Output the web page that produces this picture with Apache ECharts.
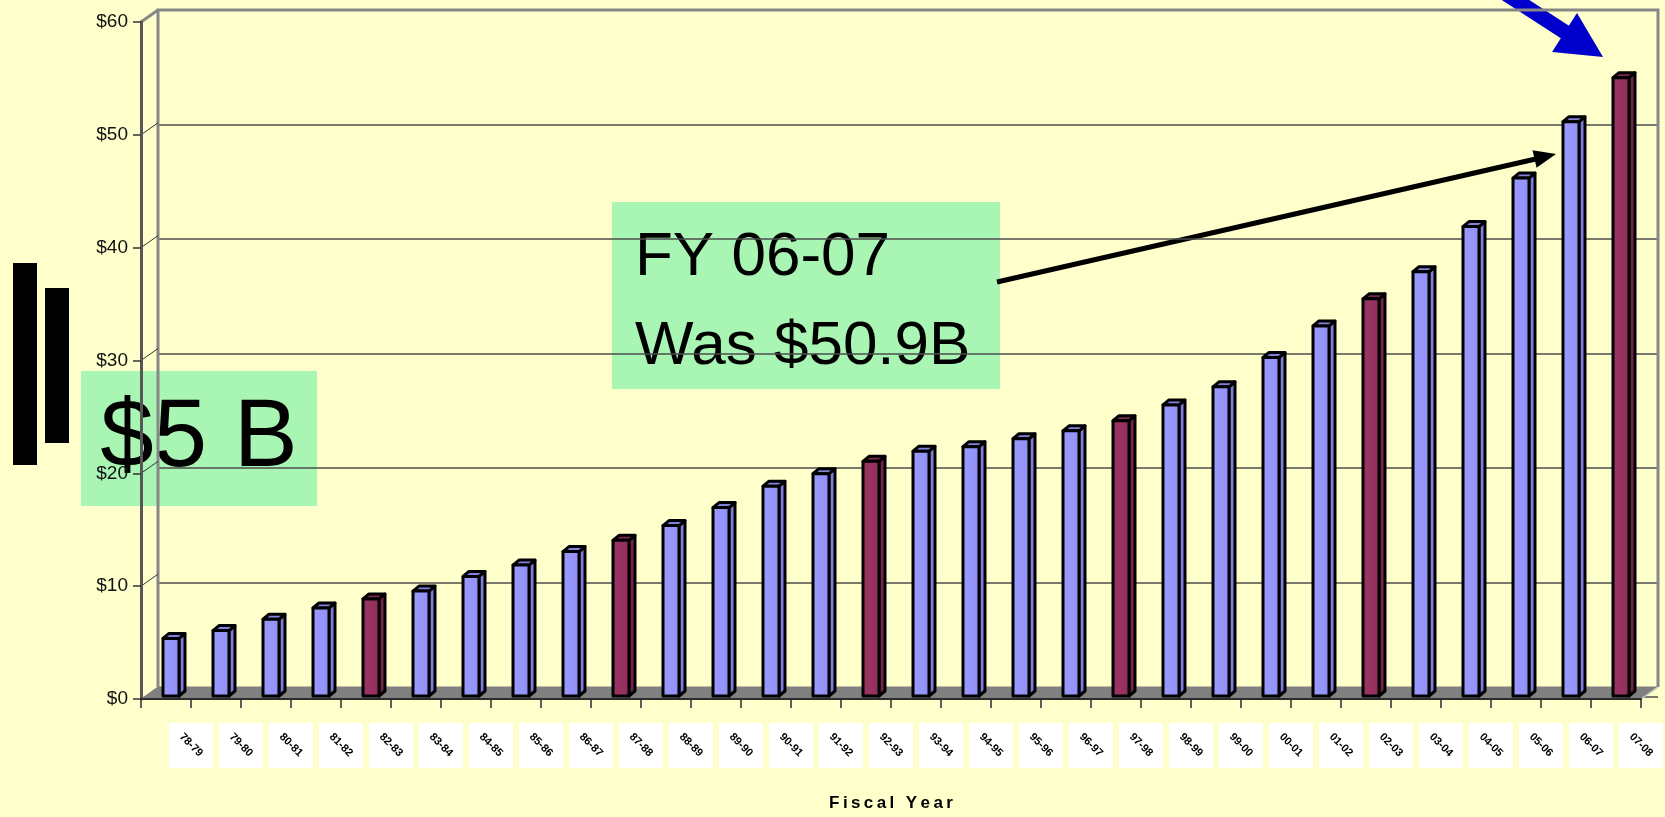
<!DOCTYPE html>
<html>
<head>
<meta charset="utf-8">
<script src="https://cdn.jsdelivr.net/npm/echarts@6/dist/echarts.min.js"></script>
<style>
  html, body { margin: 0; padding: 0; background: #FFFFCC; }
  #chart { width: 1665px; height: 817px; }
</style>
</head>
<body>
<div id="chart"></div>
<script>
// 财年
var years = ['78-79', '79-80', '80-81', '81-82', '82-83', '83-84', '84-85', '85-86', '86-87', '87-88',
  '88-89', '89-90', '90-91', '91-92', '92-93', '93-94', '94-95', '95-96', '96-97', '97-98',
  '98-99', '99-00', '00-01', '01-02', '02-03', '03-04', '04-05', '05-06', '06-07', '07-08']
// 金额 ($B)
var spending = [5.1, 5.8, 6.8, 7.8, 8.6, 9.3, 10.6, 11.6, 12.8, 13.8,
  15.1, 16.7, 18.6, 19.7, 20.8, 21.7, 22.1, 22.8, 23.5, 24.4,
  25.8, 27.4, 30.0, 32.8, 35.2, 37.6, 41.6, 45.9, 50.9, 54.8]
// 红色柱子
var redYears = ['82-83', '87-88', '92-93', '97-98', '02-03', '07-08']
var yTicks = [0, 10, 20, 30, 40, 50, 60]

var FONT = '"Liberation Sans", Arial, sans-serif'
var DX = 17; var DY = -12 // 3D 深度偏移

var barData = spending.map(function(v, i) { return [i, v, redYears.indexOf(years[i]) >= 0 ? 1 : 0] })

var chart = echarts.init(document.getElementById('chart'))

function colorsFor(red) {
  if (red) {
    return {
      front: new echarts.graphic.LinearGradient(0, 0, 1, 0, [
        { offset: 0, color: '#9B3463' }, { offset: 0.7, color: '#96315F' }, { offset: 1, color: '#862B55' }]),
      side: '#77244C',
      top: '#7C274F'
    }
  }
  return {
    front: new echarts.graphic.LinearGradient(0, 0, 1, 0, [
      { offset: 0, color: '#9A9AFF' }, { offset: 0.7, color: '#9494F8' }, { offset: 1, color: '#8686E8' }]),
    side: '#7E7EDA',
    top: '#8282DC'
  }
}

// 柱子 (伪 3D)
function renderBar(params, api) {
  var base = api.coord([api.value(0), 0])
  var top = api.coord([api.value(0), api.value(1)])
  var c = colorsFor(api.value(2))
  var xl = base[0] - 3; var xr = base[0] + 13
  var y0 = base[1] - 3; var y1 = top[1] - 3
  var d = [6, -5]
  var st = { stroke: '#000', lineWidth: 3, lineJoin: 'round' }
  return {
    type: 'group',
    children: [
      { type: 'polygon', shape: { points: [[xr, y0], [xr + d[0], y0 + d[1]], [xr + d[0], y1 + d[1]], [xr, y1]] },
        style: Object.assign({ fill: c.side }, st) },
      { type: 'polygon', shape: { points: [[xl, y1], [xr, y1], [xr + d[0], y1 + d[1]], [xl + d[0], y1 + d[1]]] },
        style: Object.assign({ fill: c.top }, st) },
      { type: 'rect', shape: { x: xl, y: y1, width: xr - xl, height: y0 - y1 },
        style: Object.assign({ fill: c.front }, st) }
    ]
  }
}

// 墙面 地板
function renderFrame(params, api) {
  var cs = params.coordSys
  var l = cs.x; var r = cs.x + cs.width; var t = cs.y; var b = cs.y + cs.height
  var kids = [
    { type: 'polygon', shape: { points: [[l, b], [r, b], [r + DX, b + DY], [l + DX, b + DY]] },
      style: { fill: '#808080', stroke: '#808080', lineWidth: 1 } },
    { type: 'line', shape: { x1: r, y1: b, x2: r + DX, y2: b + DY }, style: { stroke: '#C8C8C8', lineWidth: 1.5 } },
    { type: 'polyline', shape: { points: [[l + DX, b + DY], [l + DX, t + DY], [r + DX, t + DY], [r + DX, b + DY]] },
      style: { stroke: '#878787', lineWidth: 3, fill: null } },
    { type: 'line', shape: { x1: l, y1: t, x2: l + DX, y2: t + DY }, style: { stroke: '#878787', lineWidth: 3 } }
  ]
  yTicks.forEach(function(v) {
    if (v === 0 || v === 60) return
    var y = api.coord([0, v])[1]
    kids.push({ type: 'line', shape: { x1: l, y1: y, x2: l + DX, y2: y + DY }, style: { stroke: '#333', lineWidth: 1 } })
  })
  return { type: 'group', children: kids }
}

// x 轴标签 (白底斜字)
function renderLabel(params, api) {
  var base = api.coord([api.value(0), 0])
  var cx = base[0] + 25
  var y = base[1] + 24
  return {
    type: 'group',
    children: [
      { type: 'rect', shape: { x: cx - 22, y: y, width: 44, height: 45 }, style: { fill: '#fff' } },
      { type: 'text', x: cx, y: y + 22, rotation: -Math.PI / 4,
        style: { text: years[api.value(0)], fill: '#000', font: 'bold 11px ' + FONT, align: 'center', verticalAlign: 'middle' } }
    ]
  }
}

function arrowHead(x1, y1, x2, y2, len, half) {
  var dx = x2 - x1; var dy = y2 - y1; var n = Math.sqrt(dx * dx + dy * dy)
  var ux = dx / n; var uy = dy / n
  var bx = x2 - ux * len; var by = y2 - uy * len
  return [[x2, y2], [bx - uy * half, by + ux * half], [bx + uy * half, by - ux * half]]
}

chart.setOption({
  backgroundColor: '#FFFFCC',
  animation: false,
  grid: [
    { left: 141, right: 24, top: 22, bottom: 108 },
    { left: 141 + DX, right: 24 - DX, top: 22 + DY, bottom: 108 - DY }
  ],
  xAxis: [
    {
      type: 'category', gridIndex: 0, data: years, z: 5,
      axisLine: { lineStyle: { color: '#2b2b2b', width: 2 } },
      axisTick: { show: true, length: 9, lineStyle: { color: '#2b2b2b', width: 1.5 } },
      axisLabel: { show: false },
      name: 'F\u2009i\u2009s\u2009c\u2009a\u2009l\u2009 \u2009Y\u2009e\u2009a\u2009r',
      nameLocation: 'middle', nameGap: 96,
      nameTextStyle: { fontFamily: FONT, fontWeight: 'bold', fontSize: 17, color: '#000' }
    },
    { type: 'category', gridIndex: 1, data: years, show: false }
  ],
  yAxis: [
    {
      type: 'value', gridIndex: 0, min: 0, max: 60, interval: 10, z: 5,
      axisLine: { show: true, lineStyle: { color: '#575757', width: 3 } },
      axisTick: { show: true, length: 8, lineStyle: { color: '#333', width: 1.5 } },
      axisLabel: { margin: 13, fontFamily: FONT, fontSize: 19, color: '#111', formatter: function(v) { return '$' + v } },
      splitLine: { show: false }
    },
    {
      type: 'value', gridIndex: 1, min: 0, max: 60, interval: 10,
      axisLine: { show: false }, axisTick: { show: false }, axisLabel: { show: false },
      splitLine: { show: true, lineStyle: { color: '#4d4d4d', width: 1.5 } }
    }
  ],
  series: [
    { type: 'custom', name: 'frame', xAxisIndex: 0, yAxisIndex: 0, z: 2, silent: true,
      data: [[0, 0]], renderItem: renderFrame },
    { type: 'custom', name: 'spending', xAxisIndex: 0, yAxisIndex: 0, z: 3,
      data: barData, renderItem: renderBar },
    { type: 'custom', name: 'labels', xAxisIndex: 0, yAxisIndex: 0, z: 3, silent: true,
      data: barData, renderItem: renderLabel }
  ],
  graphic: [
    // 左侧黑条
    { type: 'rect', shape: { x: 13, y: 263, width: 24, height: 202 }, style: { fill: '#000' } },
    { type: 'rect', shape: { x: 45, y: 288, width: 24, height: 155 }, style: { fill: '#000' } },
    // $5 B
    { type: 'rect', shape: { x: 81, y: 371, width: 236, height: 135 }, style: { fill: '#A9F5B4' } },
    { type: 'text', x: 199, y: 440, style: { text: '$5 B', font: '96px ' + FONT, fill: '#000', align: 'center', verticalAlign: 'middle' } },
    // FY 06-07
    { type: 'rect', shape: { x: 612, y: 202, width: 388, height: 187 }, style: { fill: '#A9F5B4' } },
    { type: 'text', x: 635, y: 258, style: { text: 'FY 06-07', font: '62px ' + FONT, fill: '#000', align: 'left', verticalAlign: 'middle' } },
    { type: 'text', x: 635, y: 347, style: { text: 'Was $50.9B', font: '62px ' + FONT, fill: '#000', align: 'left', verticalAlign: 'middle' } },
    // 黑箭头
    { type: 'line', shape: { x1: 997, y1: 282, x2: 1540, y2: 158 }, style: { stroke: '#000', lineWidth: 5 } },
    { type: 'polygon', shape: { points: arrowHead(997, 282, 1556, 154, 22, 9) }, style: { fill: '#000' } },
    // 蓝箭头
    { type: 'line', shape: { x1: 1497, y1: -12, x2: 1568, y2: 34 }, style: { stroke: '#0000CC', lineWidth: 15 } },
    { type: 'polygon', shape: { points: [[1603, 57], [1552, 52], [1577, 13]] }, style: { fill: '#0000CC' } }
  ]
})
</script>
</body>
</html>
